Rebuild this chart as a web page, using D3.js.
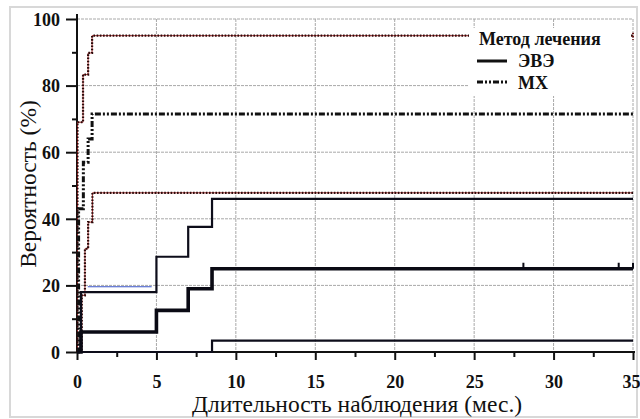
<!DOCTYPE html>
<html>
<head>
<meta charset="utf-8">
<script src="https://cdn.jsdelivr.net/npm/d3@7/dist/d3.min.js"></script>
<style>
  body { margin: 0; background: #fff; }
</style>
</head>
<body>
<div id="chart"></div>
<script>
// кумулятивная вероятность, шаги (время, %)
const evE_time  = [0, 0.25, 5, 7, 8.5, 35];
const evE_est   = [0, 6, 12.5, 19, 25, 25];
const evE_hi    = [0, 18, 28.6, 37.6, 46, 46];
const evE_lo_t  = [0, 8.5, 35];
const evE_lo    = [0, 3.4, 3.4];
const evE_cens  = [28.1, 34.1, 35];

const mx_est_t  = [0, 0.1, 0.4, 0.7, 0.95, 35];
const mx_est    = [0, 43, 57, 64, 71.5, 71.5];
const mx_hi_t   = [0, 0.03, 0.38, 0.7, 0.95, 35];
const mx_hi     = [0, 69, 83.3, 89.8, 95, 95];
const mx_lo_t   = [0, 0.3, 0.5, 0.7, 0.97, 35];
const mx_lo     = [0, 17, 31, 39, 47.8, 47.8];

const xTicks = [0, 5, 10, 15, 20, 25, 30, 35];
const yTicks = [0, 20, 40, 60, 80, 100];

const FONT = '"Liberation Serif"';
const width = 640, height = 419;
const svg = d3.select("#chart").append("svg")
  .attr("width", width).attr("height", height);

// рамка
svg.append("rect")
  .attr("x", 10).attr("y", 7).attr("width", 627).attr("height", 410)
  .attr("fill", "#fff").attr("stroke", "#d8d8d8").attr("stroke-width", 2);

const x = d3.scaleLinear().domain([0, 35]).range([77, 633]);
const y = d3.scaleLinear().domain([0, 100]).range([352, 19]);

// сетка
svg.append("g").selectAll("line").data(yTicks.filter(d => d > 0)).enter()
  .append("line")
  .attr("x1", x(0)).attr("x2", x(35))
  .attr("y1", d => y(d)).attr("y2", d => y(d))
  .attr("stroke", "#a8a8a8").attr("stroke-width", 1).attr("stroke-dasharray", "3,1");
svg.append("g").selectAll("line").data(xTicks.filter(d => d > 0)).enter()
  .append("line")
  .attr("x1", d => x(d)).attr("x2", d => x(d))
  .attr("y1", y(100)).attr("y2", y(0))
  .attr("stroke", "#a8a8a8").attr("stroke-width", 1).attr("stroke-dasharray", "3,1");

// синяя линия из оригинала
svg.append("line")
  .attr("x1", x(0.68)).attr("x2", x(4.7))
  .attr("y1", y(19.6)).attr("y2", y(19.6))
  .attr("stroke", "#3a55c8").attr("stroke-width", 1.2);

// оси
const xAxis = d3.axisBottom(x).tickValues(d3.range(0, 35.1, 2.5))
  .tickSize(0).tickFormat("");
const gx = svg.append("g").attr("transform", `translate(0,${y(0)})`).call(xAxis);
gx.select(".domain").attr("stroke", "#111").attr("stroke-width", 2).attr("d", `M${x(0)},0H${x(35) + 2}`);
gx.selectAll(".tick line")
  .attr("stroke", "#111").attr("stroke-width", 2)
  .attr("y2", d => d % 5 === 0 ? 8 : 5);
gx.selectAll(".tick").filter(d => d % 5 === 0).append("text")
  .attr("y", 36).attr("text-anchor", "middle")
  .attr("dx", d => d === 35 ? -2 : 0)
  .attr("fill", "#111").attr("font-size", 18).attr("font-weight", "bold")
  .style("font-family", FONT)
  .text(d => d);

const yAxis = d3.axisLeft(y).tickValues(d3.range(0, 100.1, 10))
  .tickSize(0).tickFormat("");
const gy = svg.append("g").attr("transform", `translate(${x(0)},0)`).call(yAxis);
gy.select(".domain").attr("stroke", "#111").attr("stroke-width", 2).attr("d", `M0,${y(0)}V${y(100) - 5}`);
gy.selectAll(".tick line")
  .attr("stroke", "#111").attr("stroke-width", 2)
  .attr("x2", d => d % 20 === 0 ? -11 : -5);
gy.selectAll(".tick").filter(d => d % 20 === 0).append("text")
  .attr("x", -17).attr("dy", "0.35em").attr("text-anchor", "end")
  .attr("fill", "#111").attr("font-size", 18).attr("font-weight", "bold")
  .style("font-family", FONT)
  .text(d => d);

// кривые
const step = d3.line().x(d => x(d[0])).y(d => y(d[1])).curve(d3.curveStepAfter);
const zip = (t, v) => t.map((d, i) => [d, v[i]]);

function drawMxCI(t, v) {
  svg.append("path").datum(zip(t, v)).attr("d", step)
    .attr("fill", "none").attr("stroke", "#a83030").attr("stroke-width", 1);
  svg.append("path").datum(zip(t, v)).attr("d", step)
    .attr("fill", "none").attr("stroke", "#2a0a0a").attr("stroke-width", 2.2)
    .attr("stroke-dasharray", "1.6,1.6");
}
drawMxCI(mx_hi_t, mx_hi);
drawMxCI(mx_lo_t, mx_lo);

svg.append("path").datum(zip(mx_est_t, mx_est)).attr("d", step)
  .attr("fill", "none").attr("stroke", "#111").attr("stroke-width", 3)
  .attr("stroke-dasharray", "6,2,2,2,2,2");

svg.append("path").datum(zip(evE_time, evE_hi)).attr("d", step)
  .attr("fill", "none").attr("stroke", "#0d0d1a").attr("stroke-width", 2.2);
svg.append("path").datum(zip(evE_lo_t, evE_lo)).attr("d", step)
  .attr("fill", "none").attr("stroke", "#0d0d1a").attr("stroke-width", 2.2);
svg.append("path").datum(zip(evE_time, evE_est)).attr("d", step)
  .attr("fill", "none").attr("stroke", "#0a0a14").attr("stroke-width", 3.6);

// цензурированные
svg.append("g").selectAll("line").data(evE_cens).enter().append("line")
  .attr("x1", d => x(d)).attr("x2", d => x(d))
  .attr("y1", y(25)).attr("y2", y(25) - 6)
  .attr("stroke", "#0a0a14").attr("stroke-width", 2);

// легенда (белая подложка)
svg.append("rect").attr("x", 469).attr("y", 28).attr("width", 162).attr("height", 68)
  .attr("fill", "#fff");
svg.append("line").attr("x1", x(35)).attr("x2", x(35)).attr("y1", y(95) - 3).attr("y2", y(95) + 4)
  .attr("stroke", "#6a1a1a").attr("stroke-width", 2).attr("stroke-dasharray", "1.6,1.6");
const legText = (tx, ty, s) => svg.append("text").attr("x", tx).attr("y", ty).attr("fill", "#111")
  .attr("font-size", 18).attr("font-weight", "bold").style("font-family", FONT).text(s);
legText(479, 45, "Метод лечения");
svg.append("line").attr("x1", 477).attr("x2", 507).attr("y1", 61).attr("y2", 61)
  .attr("stroke", "#111").attr("stroke-width", 3);
legText(518, 67, "ЭВЭ");
svg.append("line").attr("x1", 477).attr("x2", 507).attr("y1", 82).attr("y2", 82)
  .attr("stroke", "#111").attr("stroke-width", 3).attr("stroke-dasharray", "6,2,2,2,2,2");
legText(518, 89, "МХ");

// подписи осей
svg.append("text").attr("x", 357).attr("y", 412).attr("text-anchor", "middle").attr("fill", "#111")
  .attr("font-size", 23.5).style("font-family", FONT).text("Длительность наблюдения (мес.)");
svg.append("text").attr("transform", "translate(36,184) rotate(-90)").attr("fill", "#111")
  .attr("text-anchor", "middle").attr("font-size", 23.5).style("font-family", FONT).text("Вероятность (%)");
</script>
</body>
</html>
